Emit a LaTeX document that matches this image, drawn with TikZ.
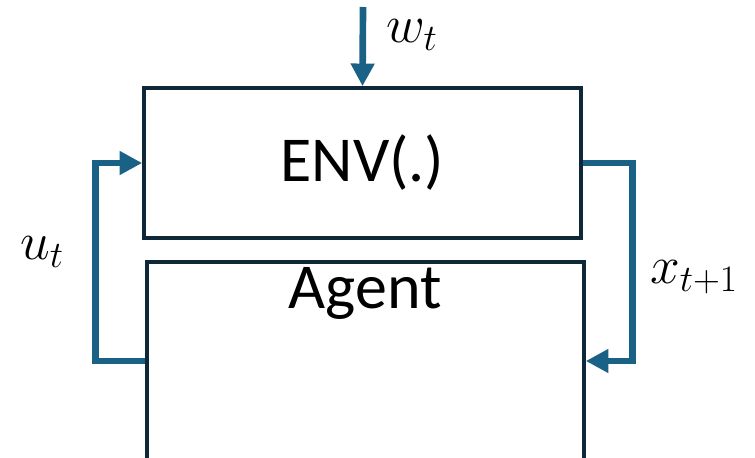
\RequirePackage{fix-cm}
\documentclass[tikz,border=0pt]{standalone}
\usepackage{fontspec}
\newfontfamily\calibrifont{Carlito}
\usepackage{tikz}
\usetikzlibrary{
    arrows.meta,
    positioning
}
\usepackage{amsmath, amssymb}
\definecolor{loopblue}{HTML}{1A6285}
\definecolor{boxnavy}{HTML}{0F2837}

\begin{document}
\begin{tikzpicture}[
    x=0.75pt, y=-0.75pt,
    blockbox/.style = {rectangle, draw=boxnavy, line width=2.7pt,
                       minimum width=327.75pt},
    blocktext/.style = {font=\calibrifont\fontsize{48}{56}\selectfont},
    signal/.style = {inner sep=0pt, font=\fontsize{40}{48}\selectfont},
    flowarrow/.style = {draw=loopblue, line width=5pt,
                        -{Triangle[length=17pt, width=17pt]}}
]
    \useasboundingbox (0,0) rectangle (755,457);

    \node[blockbox, minimum height=112.5pt] (ENV) at (362.5,163) {};
    \node[blocktext] (ENVtxt) at (ENV.center) {ENV(.)};
    \node[blockbox, minimum height=148.5pt] (AG) at (365.5,361) {};
    \node[blocktext] (AGtxt) at (365,293) {Agent};

    \coordinate (WIN) at (363,7);
    \node[signal] (W) at (412,35) {$w_t$};
    \node[signal] (U) at (42,252) {$u_t$};
    \node[signal] (X) at (694,277) {$x_{t+1}$};

    \draw[flowarrow] (WIN) -- (ENV.north);
    \draw[flowarrow] (ENV.east) -- ++(50,0) |- (AG.east);
    \draw[flowarrow] (AG.west) -- ++(-50,0) |- (ENV.west);

\end{tikzpicture}
\end{document}
